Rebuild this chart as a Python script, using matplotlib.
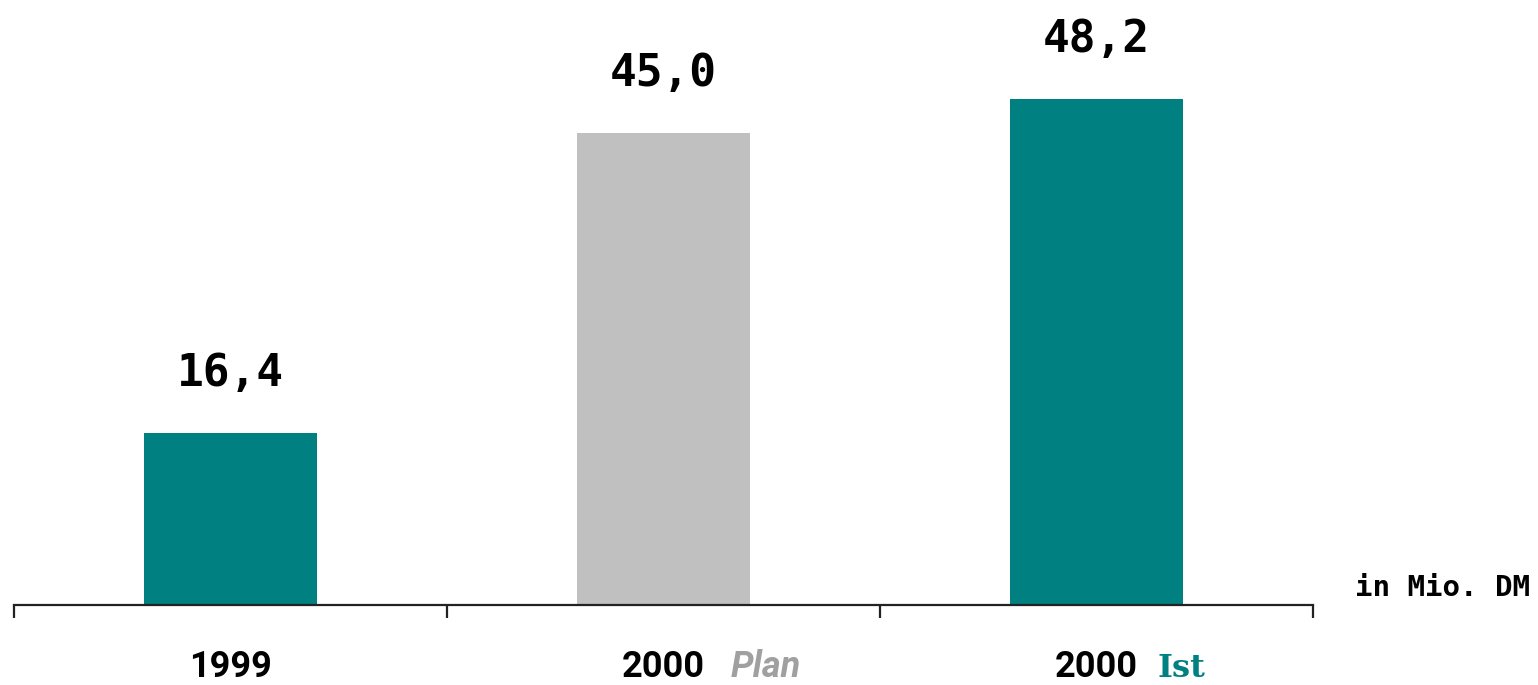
import matplotlib
matplotlib.use("Agg")
import matplotlib.pyplot as plt
from matplotlib.transforms import blended_transform_factory

years = ["1999", "2000", "2000"]
suffixes = ["", "Plan", "Ist"]
values = [16.4, 45.0, 48.2]
value_labels = ["16,4", "45,0", "48,2"]
unit_label = "in Mio. DM"

TEAL = "#008080"
GREY = "#C0C0C0"
bar_colors = [TEAL, GREY, TEAL]
suffix_colors = [None, "#A0A0A0", TEAL]

fig = plt.figure(figsize=(15.38, 6.85), dpi=100)
W, H = 1538, 685
ax = fig.add_axes([14 / W, (H - 605) / H, (1313 - 14) / W, 605 / H])

x = list(range(len(values)))
ax.bar(x, values, width=0.4, color=bar_colors, zorder=2)
ax.set_xlim(-0.5, 2.5)
ax.set_ylim(0, 605 / 10.5)

for s in ["top", "right", "left"]:
    ax.spines[s].set_visible(False)
ax.spines["bottom"].set_linewidth(1.6)
ax.spines["bottom"].set_color("#222222")
ax.set_yticks([])
ax.set_xticks([i - 0.5 for i in range(len(values) + 1)])
ax.set_xticklabels([])
ax.tick_params(axis="x", direction="out", length=9, width=1.6, color="#222222")

for xi, v, lab in zip(x, values, value_labels):
    ax.annotate(lab, (xi, v), xytext=(0, 27), textcoords="offset points",
                ha="center", va="bottom", fontsize=32, fontweight="bold",
                family="DejaVu Sans Mono", color="black")

trans = blended_transform_factory(ax.transData, fig.transFigure)
base_y = (H - 677) / H
for xi, yr, suf, sc in zip(x, years, suffixes, suffix_colors):
    ax.text(xi, base_y, yr, transform=trans,
            ha="center", va="baseline", fontsize=26, fontweight="bold",
            family="Roboto", color="black")
    if suf:
        style = "italic" if suf == "Plan" else "normal"
        fam = "Roboto" if suf == "Plan" else "DejaVu Serif"
        dx = 0.155 if suf == "Plan" else 0.141
        ax.text(xi + dx, base_y, suf, transform=trans,
                ha="left", va="baseline", fontsize=26 if suf == "Plan" else 23,
                fontweight="bold", fontstyle=style, family=fam, color=sc)

fig.text(1530 / W, (H - 588) / H, unit_label, ha="right", va="center",
         fontsize=21, fontweight="bold", family="DejaVu Sans Mono", color="black")

fig.savefig("out.png", dpi=100, facecolor="white")
